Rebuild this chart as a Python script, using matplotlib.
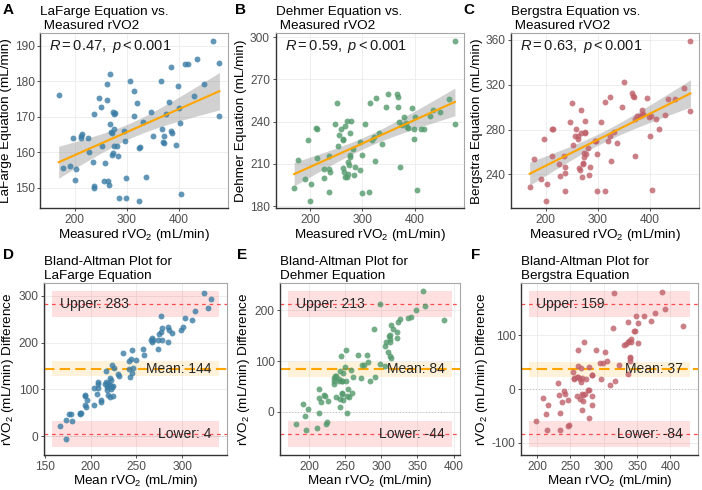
import matplotlib.pyplot as plt
import numpy as np
from matplotlib.ticker import MultipleLocator

plt.rcParams['font.family'] = ['Liberation Sans', 'DejaVu Sans']
plt.rcParams['mathtext.fontset'] = 'custom'
plt.rcParams['mathtext.rm'] = 'Liberation Sans'
plt.rcParams['mathtext.it'] = 'Liberation Sans:italic'
plt.rcParams['axes.unicode_minus'] = False

# measured rVO2 (mL/min), one value per subject
measured = [169.4, 177.5, 190.6, 196, 200, 201.9, 211.9, 212.5, 213.8,
            226, 226.9, 235.6, 236.3, 236.9, 238,
            247.5, 250.6, 252.5, 255.6, 258.8,
            262.5, 262.5, 263.8, 265.6, 267, 267.5, 270, 271.3, 272.5, 273,
            274.4, 275.6, 276, 276.3, 278, 282, 283.8, 285.6,
            295, 295.6, 298.8, 298.8, 305.6, 313, 313.8, 319, 322.5, 324,
            325.6, 331, 337,
            345.6, 350, 366, 367.5, 368.8, 370.6, 371.9, 376, 380.6, 383.8,
            385, 387.5, 394.4, 398.8, 399.4, 401.3, 404.4, 411.9, 417.5,
            429.4, 435, 448, 465.6, 477.5, 476.9]

# estimated rVO2 from each equation, same subjects
lafarge = [176.3, 155.5, 156.2, 164.1, 152.3, 155.4, 164.6, 164.1, 165.2,
           163.9, 160.1, 157.4, 170.8, 150.6, 150,
           175.2, 172.8, 161.7, 151.8, 157,
           174.8, 179.3, 152, 150.8, 168, 182, 165.8, 159.3, 165.5, 171.5,
           159.7, 161.8, 166.5, 170.9, 171.2, 161.9, 159, 147.2,
           166, 163.3, 147, 152.7, 180.1, 177.2, 170.1, 173.8, 161.3, 146.4,
           161.5, 168.5, 152.9,
           171.5, 164.5, 180, 166.5, 163, 164.7, 162.6, 170.9, 174.3, 165.9,
           184.2, 165.4, 162.2, 178.7, 172.4, 168.2, 148.3, 185, 185,
           175.9, 186.2, 179.4, 191.4, 185.3, 170.2]

dehmer = [193, 212.8, 199.1, 226.8, 184, 195.6, 235.8, 214.3, 234.6,
          206.7, 200.3, 190.4, 215.4, 206.2, 203.9,
          238.1, 253.5, 223, 230.6, 234.6,
          228, 206.9, 227, 204.1, 201, 236.9, 240.7, 200.6, 211.4, 202.7,
          209.1, 215, 216, 231.7, 240.7, 220.4, 202.4, 207.9,
          205.5, 225.8, 216.6, 189.5, 238.1, 190.4, 253.5, 226.8, 229.1, 211.7,
          257, 231.7, 224.2,
          250.7, 259.6, 259.8, 257.7, 250.7, 239.8, 207.9, 237.4, 243.1, 239.3,
          236.2, 235.5, 249.5, 234.6, 227.7, 243.3, 191.6, 234.6, 234.6,
          244.3, 248.3, 247.1, 255.8, 297.2, 238.1]

bergstra = [228.5, 253.8, 236.3, 271.7, 216.7, 231.5, 280.9, 256.5, 280.9,
            249.1, 238.4, 256.2, 225.3, 246.7, 241.6,
            286.5, 304.1, 266, 274.1, 280.3,
            274.1, 271.4, 245.8, 244.3, 277, 297.5, 237.8, 249.4, 250, 259.5,
            255.6, 277.3, 288, 278, 258, 264, 239.9, 246.7,
            269.6, 270, 258, 225.3, 287.1, 304.7, 225.6, 269.6, 274.3, 309.1,
            252.3, 277.9, 267.8,
            300.5, 322.5, 312.7, 310.3, 309.5, 256.8, 289.8, 292.2, 292.2, 293.4,
            297.2, 294, 308.3, 291.3, 274, 292.2, 225.9, 289.5, 280.6,
            292.8, 307.7, 307.1, 316.9, 359.1, 296.4]

names = ['LaFarge', 'Dehmer', 'Bergstra']
r_text = ['0.47', '0.59', '0.63']
bias = [144, 84, 37]
upper = [283, 213, 159]
lower = [4, -44, -84]

colors = ['#3A7CA5', '#52996C', '#BF5F69']
y_steps = [10, 30, 40]
letters_top = ['A', 'B', 'C']
letters_bot = ['D', 'E', 'F']

W, H = 702, 490
fig = plt.figure(figsize=(W / 100, H / 100), dpi=100)


def px_axes(l, t, r, b):
    return fig.add_axes([l / W, 1 - b / H, (r - l) / W, (b - t) / H])


def style(ax):
    ax.grid(color='#EBEBEB', lw=0.6)
    ax.set_axisbelow(True)
    for s in ['top', 'right']:
        ax.spines[s].set_color('#A6A6A6')
        ax.spines[s].set_linewidth(0.8)
    for s in ['left', 'bottom']:
        ax.spines[s].set_color('#333333')
        ax.spines[s].set_linewidth(1.0)
    ax.tick_params(length=2.5, width=0.6, color='#333333', labelsize=8.6,
                   labelcolor='#4D4D4D', pad=1.5)


top_boxes = [(40, 33, 228, 208.5), (275.5, 33, 463.5, 208.5), (511, 33, 699, 208.5)]
bot_boxes = [(44, 283, 227, 455), (280, 283, 460, 455), (521, 283, 698, 455)]
letter_x_top = [8, 240, 469]
letter_x_bot = [8, 242, 476]

x = np.array(measured)
label_x = 150

for i, eq in enumerate([lafarge, dehmer, bergstra]):
    y = np.array(eq)
    n = len(x)

    # ---- scatter with linear fit ----
    ax = px_axes(*top_boxes[i])
    style(ax)
    b1, b0 = np.polyfit(x, y, 1)
    resid = y - (b0 + b1 * x)
    s = np.sqrt(np.sum(resid ** 2) / (n - 2))
    xs = np.linspace(x.min(), x.max(), 100)
    se = s * np.sqrt(1 / n + (xs - x.mean()) ** 2 / np.sum((x - x.mean()) ** 2))
    fit = b0 + b1 * xs
    ax.fill_between(xs, fit - 1.99 * se, fit + 1.99 * se, color='#999999',
                    alpha=0.45, lw=0, zorder=2)
    ax.scatter(x, y, s=18, color=colors[i], alpha=0.8, lw=0, zorder=3)
    ax.plot(xs, fit, color='#FFA500', lw=1.5, zorder=4)
    span = x.max() - label_x
    ax.set_xlim(label_x - 0.05 * span, x.max() + 0.05 * span)
    ax.xaxis.set_major_locator(MultipleLocator(100))
    ax.yaxis.set_major_locator(MultipleLocator(y_steps[i]))
    ax.text(0.05, 0.925, r'$R = %s,\ p < 0.001$' % r_text[i], transform=ax.transAxes,
            fontsize=10.5, va='center', ha='left', color='#1A1A1A')
    ax.set_title(f'{names[i]} Equation vs.\n Measured rVO2', loc='left',
                 fontsize=9.7, linespacing=1.2, pad=3)
    ax.set_xlabel('Measured rVO$_2$ (mL/min)', fontsize=9.7, labelpad=1)
    ax.set_ylabel(f'{names[i]} Equation (mL/min)', fontsize=9.7, labelpad=2)
    fig.text(letter_x_top[i] / W, 1 - 10 / H, letters_top[i], fontsize=11,
             fontweight='bold', ha='center', va='center')

    # ---- Bland-Altman ----
    ax = px_axes(*bot_boxes[i])
    style(ax)
    m = (x + y) / 2
    d = x - y
    rng = m.max() - m.min()
    bx = [m.min() - 0.05 * rng, m.max() + 0.05 * rng]
    sd = (upper[i] - lower[i]) / (2 * 1.96)
    ci_mean = 1.96 * sd / np.sqrt(n)
    ci_loa = 1.96 * sd * np.sqrt(3 / n)
    ax.fill_between(bx, bias[i] - ci_mean, bias[i] + ci_mean, color='#FFA500',
                    alpha=0.14, lw=0, zorder=1)
    for lim in [upper[i], lower[i]]:
        ax.fill_between(bx, lim - ci_loa, lim + ci_loa, color='#FF0000',
                        alpha=0.12, lw=0, zorder=1)
        ax.axhline(lim, color='#FF4D4D', lw=0.9, dashes=(3, 3), zorder=2)
    ax.axhline(0, color='#BDBDBD', lw=0.7, dashes=(1, 2), zorder=1.5)
    ax.axhline(bias[i], color='#FFA500', lw=1.5, dashes=(5, 2.5), zorder=2)
    ax.scatter(m, d, s=18, color=colors[i], alpha=0.8, lw=0, zorder=3)
    ax.text(m.min(), upper[i], f'Upper: {upper[i]}', fontsize=10, ha='left',
            va='center', color='#262626', zorder=4)
    ax.text(m.max(), bias[i], f'Mean: {bias[i]}', fontsize=10, ha='right',
            va='center', color='#262626', zorder=4)
    ax.text(m.max(), lower[i], f'Lower: {lower[i]}', fontsize=10, ha='right',
            va='center', color='#262626', zorder=4)
    ax.xaxis.set_major_locator(MultipleLocator(50))
    ax.yaxis.set_major_locator(MultipleLocator(100))
    ax.set_title(f'Bland-Altman Plot for\n{names[i]} Equation', loc='left',
                 fontsize=9.7, linespacing=1.2, pad=3)
    ax.set_xlabel('Mean rVO$_2$ (mL/min)', fontsize=9.7, labelpad=0.5)
    ax.set_ylabel('rVO$_2$ (mL/min) Difference', fontsize=9.7, labelpad=1.5)
    fig.text(letter_x_bot[i] / W, 1 - 255 / H, letters_bot[i], fontsize=11,
             fontweight='bold', ha='center', va='center')

fig.savefig('out.png', dpi=100)
